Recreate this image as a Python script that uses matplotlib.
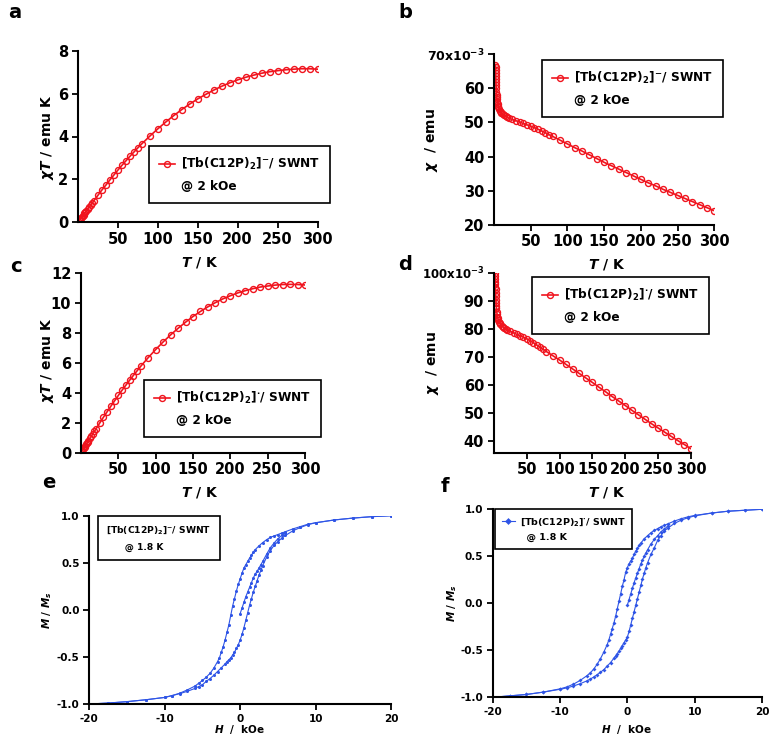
import matplotlib
matplotlib.use("Agg")
import matplotlib.pyplot as plt
from matplotlib.lines import Line2D

plt.rcParams['font.family'] = ['DejaVu Sans']
plt.rcParams['font.weight'] = 'bold'
plt.rcParams['axes.unicode_minus'] = False
plt.rcParams['mathtext.fontset'] = 'custom'
plt.rcParams['mathtext.rm'] = 'DejaVu Sans:bold'
plt.rcParams['mathtext.bf'] = 'DejaVu Sans:bold'
plt.rcParams['mathtext.it'] = 'DejaVu Sans:italic'
plt.rcParams['mathtext.bfit'] = 'DejaVu Sans:italic:bold'
plt.rcParams['mathtext.default'] = 'bf'

RED = '#f0141e'
BLUE = '#2f55e6'

# chi*T vs T (panels a, c)
T_ct = [2, 3, 4, 5, 6, 7, 8, 9, 10, 12, 14, 16, 18, 20, 25, 30, 35, 40, 45, 50, 55, 60,
        65, 70, 75, 80, 90, 100, 110, 120, 130, 140, 150, 160, 170, 180, 190, 200, 210,
        220, 230, 240, 250, 260, 270, 280, 290, 300]
chiT_a = [0.1, 0.15, 0.2, 0.25, 0.3, 0.35, 0.4, 0.45, 0.5, 0.6, 0.7, 0.8, 0.9, 1.0, 1.25,
          1.5, 1.73, 1.97, 2.2, 2.43, 2.65, 2.86, 3.07, 3.27, 3.47, 3.66, 4.02, 4.36, 4.68,
          4.98, 5.26, 5.52, 5.76, 5.97, 6.17, 6.35, 6.51, 6.65, 6.77, 6.87, 6.96, 7.03,
          7.08, 7.12, 7.15, 7.17, 7.17, 7.15]
chiT_c = [0.15, 0.24, 0.32, 0.4, 0.48, 0.56, 0.64, 0.72, 0.8, 0.96, 1.12, 1.28, 1.43, 1.58,
          1.98, 2.37, 2.74, 3.11, 3.47, 3.83, 4.18, 4.51, 4.84, 5.16, 5.47, 5.78, 6.36, 6.9,
          7.41, 7.88, 8.32, 8.73, 9.11, 9.45, 9.76, 10.04, 10.29, 10.5, 10.69, 10.84, 10.97,
          11.08, 11.15, 11.21, 11.25, 11.26, 11.25, 11.22]

# chi vs T (panels b, d), units of 1e-3 emu
T_chi = [2, 2.1, 2.2, 2.3, 2.4, 2.5, 2.6, 2.8, 3, 3.25, 3.5, 3.75, 4, 4.5, 5, 5.5, 6, 7, 8,
         9, 10, 12, 14, 16, 18, 20, 25, 30, 35, 40, 45, 50, 55, 60, 65, 70, 75, 80, 90, 100,
         110, 120, 130, 140, 150, 160, 170, 180, 190, 200, 210, 220, 230, 240, 250, 260,
         270, 280, 290, 300]
chi_b = [67.0, 66.2, 65.3, 64.4, 63.5, 62.7, 62.0, 60.9, 60.0, 59.0, 58.2, 57.5, 56.9, 56.0,
         55.3, 54.8, 54.4, 53.9, 53.5, 53.1, 52.8, 52.4, 52.1, 51.8, 51.5, 51.3, 50.9, 50.5,
         50.1, 49.7, 49.3, 48.9, 48.5, 48.0, 47.5, 47.0, 46.4, 45.9, 44.8, 43.7, 42.6, 41.6,
         40.5, 39.4, 38.3, 37.3, 36.3, 35.3, 34.3, 33.3, 32.3, 31.4, 30.4, 29.5, 28.6, 27.7,
         26.8, 25.9, 25.0, 24.1]
chi_d = [99.8, 98.8, 97.8, 96.8, 95.9, 95.0, 94.2, 92.8, 91.6, 90.3, 89.2, 88.3, 87.5, 86.2,
         85.2, 84.4, 84.0, 83.2, 82.6, 82.2, 81.8, 81.2, 80.8, 80.4, 80.1, 79.8, 79.2, 78.7,
         78.1, 77.6, 77.1, 76.6, 75.9, 75.2, 74.4, 73.6, 72.8, 72.0, 70.5, 69.0, 67.4, 65.8,
         64.2, 62.6, 61.0, 59.3, 57.7, 56.0, 54.4, 52.8, 51.1, 49.5, 47.9, 46.3, 44.8, 43.3,
         41.8, 40.3, 38.9, 37.4]

# hysteresis loops (panels e, f)
H_down = [20, 17.5, 15, 12.5, 10, 9, 8, 7, 6, 5.5, 5, 4.5, 4, 3.5, 3, 2.5, 2, 1.75, 1.5,
          1.25, 1, 0.75, 0.5, 0.25, 0, -0.25, -0.5, -0.75, -1, -1.25, -1.5, -1.75, -2,
          -2.25, -2.5, -2.75, -3, -3.5, -4, -4.5, -5, -5.5, -6, -7, -8, -9, -10, -12.5,
          -15, -17.5, -20]
H_up = [-20, -17.5, -15, -12.5, -10, -9, -8, -7, -6, -5.5, -5, -4.5, -4, -3.5, -3, -2.5,
        -2, -1.75, -1.5, -1.25, -1, -0.75, -0.5, -0.25, 0, 0.25, 0.5, 0.75, 1, 1.25, 1.5,
        1.75, 2, 2.25, 2.5, 2.75, 3, 3.5, 4, 4.5, 5, 5.5, 6, 7, 8, 9, 10, 12.5, 15, 17.5, 20]
H_virgin = [0, 0.25, 0.5, 0.75, 1, 1.25, 1.5, 1.75, 2, 2.25, 2.5, 2.75, 3, 3.5, 4, 4.5, 5,
            5.5, 6]

M_e_down = [1.0, 0.99, 0.975, 0.955, 0.925, 0.91, 0.885, 0.86, 0.83, 0.815, 0.8, 0.785,
            0.77, 0.745, 0.715, 0.68, 0.64, 0.615, 0.58, 0.55, 0.515, 0.48, 0.445, 0.39,
            0.33, 0.27, 0.2, 0.12, 0.04, -0.06, -0.16, -0.24, -0.32, -0.39, -0.45, -0.51,
            -0.55, -0.62, -0.675, -0.715, -0.75, -0.78, -0.81, -0.85, -0.885, -0.91, -0.93,
            -0.955, -0.975, -0.99, -1.0]
M_e_up = [-1.0, -0.99, -0.975, -0.955, -0.93, -0.91, -0.89, -0.865, -0.835, -0.815,
          -0.795, -0.76, -0.73, -0.695, -0.655, -0.615, -0.575, -0.55, -0.53, -0.51, -0.48,
          -0.45, -0.41, -0.37, -0.32, -0.26, -0.19, -0.11, -0.03, 0.05, 0.12, 0.19, 0.25,
          0.31, 0.37, 0.42, 0.47, 0.56, 0.63, 0.685, 0.725, 0.76, 0.79, 0.84, 0.875, 0.905,
          0.925, 0.955, 0.975, 0.99, 1.0]
M_e_virgin = [-0.04, 0.02, 0.08, 0.14, 0.19, 0.24, 0.29, 0.34, 0.38, 0.41, 0.445, 0.48,
              0.515, 0.59, 0.66, 0.71, 0.755, 0.79, 0.82]

M_f_down = [1.0, 0.99, 0.98, 0.96, 0.935, 0.92, 0.9, 0.875, 0.845, 0.83, 0.815, 0.795,
            0.775, 0.75, 0.72, 0.685, 0.64, 0.615, 0.585, 0.555, 0.52, 0.48, 0.45, 0.42,
            0.38, 0.33, 0.25, 0.18, 0.1, 0.02, -0.06, -0.14, -0.21, -0.27, -0.33, -0.39,
            -0.44, -0.52, -0.59, -0.65, -0.7, -0.74, -0.77, -0.82, -0.86, -0.89, -0.91,
            -0.945, -0.97, -0.985, -1.0]
M_f_up = [-1.0, -0.985, -0.97, -0.945, -0.915, -0.9, -0.88, -0.855, -0.825, -0.805,
          -0.785, -0.76, -0.735, -0.705, -0.67, -0.63, -0.585, -0.56, -0.535, -0.51, -0.48,
          -0.45, -0.42, -0.39, -0.36, -0.3, -0.23, -0.16, -0.09, -0.02, 0.05, 0.12, 0.19,
          0.26, 0.32, 0.38, 0.43, 0.52, 0.59, 0.67, 0.72, 0.77, 0.8, 0.85, 0.885, 0.91,
          0.93, 0.96, 0.98, 0.99, 1.0]
M_f_virgin = [-0.02, 0.04, 0.1, 0.16, 0.22, 0.27, 0.32, 0.37, 0.42, 0.46, 0.5, 0.535, 0.57,
              0.63, 0.68, 0.72, 0.76, 0.79, 0.82]

label_minus = r'[Tb(C12P)$_2$]$^{-}$/ SWNT'
label_dot = r'[Tb(C12P)$_2$]$^{\cdot}$/ SWNT'

W, Hpx = 774, 749
fig = plt.figure(figsize=(W / 100, Hpx / 100), dpi=100)


def make_ax(l, t, r, b):
    return fig.add_axes([l / W, 1 - b / Hpx, (r - l) / W, (b - t) / Hpx])


def to_ax(ax, px, py):
    p = ax.get_position()
    return ((px / W - p.x0) / p.width, (1 - py / Hpx - p.y0) / p.height)


def style(ax, size):
    for s in ['top', 'right']:
        ax.spines[s].set_visible(False)
    for s in ['left', 'bottom']:
        ax.spines[s].set_linewidth(1.5)
    ax.tick_params(direction='out', length=4, width=1.3, labelsize=size, pad=3)


def labels(ax, xl, xpos, yl, ypos, size):
    ax.set_xlabel(xl, fontsize=size, fontweight='bold', va='center')
    ax.xaxis.set_label_coords(*to_ax(ax, *xpos))
    ax.set_ylabel(yl, fontsize=size, fontweight='bold', va='center')
    ax.yaxis.set_label_coords(*to_ax(ax, *ypos))


def add_legend(ax, handles, texts, px, py, size, **kw):
    opts = dict(loc='upper left', bbox_to_anchor=(px / W, 1 - py / Hpx),
                bbox_transform=fig.transFigure, frameon=True, fancybox=False,
                edgecolor='black', framealpha=1, borderaxespad=0,
                prop={'family': 'DejaVu Sans', 'weight': 'bold', 'size': size},
                handlelength=1.3, handletextpad=0.5, borderpad=0.85, labelspacing=0.6)
    opts.update(kw)
    leg = ax.legend(handles, texts, **opts)
    leg.get_frame().set_linewidth(1.2)
    return leg


blank = Line2D([], [], linestyle='none')
red_kw = dict(color=RED, lw=1.2, marker='o', ms=4.3, mfc='none', mec=RED, mew=1.0)

# panel a
ax = make_ax(78, 51, 317.5, 222)
l1, = ax.plot(T_ct, chiT_a, **red_kw)
ax.set_xlim(0, 300)
ax.set_ylim(0, 8)
ax.set_xticks([50, 100, 150, 200, 250, 300])
ax.set_yticks([0, 2, 4, 6, 8])
style(ax, 10.5)
labels(ax, r'$\mathbfit{T}$ / K', (200, 263), r'$\mathit{\chi}\mathbfit{T}$ / emu K', (47, 137), 10)
add_legend(ax, [l1, blank], [label_minus, '@ 2 kOe'], 149, 146, 8.7)

# panel b
ax = make_ax(494, 54.3, 714.3, 224.7)
l1, = ax.plot(T_chi, chi_b, **red_kw)
ax.set_xlim(0, 300)
ax.set_ylim(20, 70)
ax.set_xticks([50, 100, 150, 200, 250, 300])
ax.set_yticks([20, 30, 40, 50, 60, 70])
ax.set_yticklabels(['20', '30', '40', '50', '60', r'70x10$^{-3}$'])
style(ax, 10.5)
ax.get_yticklabels()[-1].set_fontsize(9)
labels(ax, r'$\mathbfit{T}$ / K', (607, 265), r'$\mathit{\chi}$  / emu', (432, 140), 10)
add_legend(ax, [l1, blank], [label_minus, '@ 2 kOe'], 541.7, 60, 8.7)

# panel c
ax = make_ax(81, 273.3, 305, 452.7)
l1, = ax.plot(T_ct, chiT_c, **red_kw)
ax.set_xlim(0, 300)
ax.set_ylim(0, 12)
ax.set_xticks([50, 100, 150, 200, 250, 300])
ax.set_yticks([0, 2, 4, 6, 8, 10, 12])
style(ax, 10.5)
labels(ax, r'$\mathbfit{T}$ / K', (200, 493), r'$\mathit{\chi}\mathbfit{T}$ / emu K', (47, 360), 10)
add_legend(ax, [l1, blank], [label_dot, '@ 2 kOe'], 144, 380, 8.7)

# panel d
ax = make_ax(493.8, 272.9, 691, 452.7)
l1, = ax.plot(T_chi, chi_d, **red_kw)
ax.set_xlim(0, 300)
ax.set_ylim(36, 100)
ax.set_xticks([50, 100, 150, 200, 250, 300])
ax.set_yticks([40, 50, 60, 70, 80, 90, 100])
ax.set_yticklabels(['40', '50', '60', '70', '80', '90', r'100x10$^{-3}$'])
style(ax, 10.5)
ax.get_yticklabels()[-1].set_fontsize(8.5)
labels(ax, r'$\mathbfit{T}$ / K', (607, 493), r'$\mathit{\chi}$  / emu', (432, 363), 10)
add_legend(ax, [l1, blank], [label_dot, '@ 2 kOe'], 532, 277, 8.7)

# panel e
blue_e = dict(color=BLUE, lw=0.8, marker='o', ms=2.2, mew=0)
ax = make_ax(89.3, 515.7, 391, 704)
ax.plot(H_down, M_e_down, **blue_e)
ax.plot(H_up, M_e_up, **blue_e)
ax.plot(H_virgin, M_e_virgin, **blue_e)
ax.set_xlim(-20, 20)
ax.set_ylim(-1.0, 1.0)
ax.set_xticks([-20, -10, 0, 10, 20])
ax.set_yticks([-1.0, -0.5, 0.0, 0.5, 1.0])
ax.set_yticklabels(['-1.0', '-0.5', '0.0', '0.5', '1.0'])
style(ax, 7.5)
labels(ax, r'$\mathbfit{H}$  /  kOe', (240, 729), r'$\mathbfit{M}$ / $\mathbfit{M}_{\mathbfit{s}}$', (47, 610), 7.5)
add_legend(ax, [blank, blank], [label_minus, '      @ 1.8 K'], 98, 516, 6.6,
           handlelength=0, handletextpad=0, borderpad=0.9, labelspacing=0.7)

# panel f
blue_f = dict(color=BLUE, lw=0.8, marker='D', ms=2.0, mew=0)
ax = make_ax(492.7, 509.3, 762, 697.3)
l1, = ax.plot(H_down, M_f_down, **blue_f)
ax.plot(H_up, M_f_up, **blue_f)
ax.plot(H_virgin, M_f_virgin, **blue_f)
ax.set_xlim(-20, 20)
ax.set_ylim(-1.0, 1.0)
ax.set_xticks([-20, -10, 0, 10, 20])
ax.set_yticks([-1.0, -0.5, 0.0, 0.5, 1.0])
ax.set_yticklabels(['-1.0', '-0.5', '0.0', '0.5', '1.0'])
style(ax, 7.5)
labels(ax, r'$\mathbfit{H}$  /  kOe', (627, 730), r'$\mathbfit{M}$ / $\mathbfit{M}_{\mathbfit{s}}$', (452, 603), 7.5)
leg_handle = Line2D([], [], color=BLUE, lw=0.8, marker='D', ms=3.5, mew=0)
add_legend(ax, [leg_handle, blank], [label_dot, '  @ 1.8 K'], 495, 509, 6.8,
           handlelength=1.4, borderpad=0.7, labelspacing=0.6)

# panel letters
for letter, px, py in [('a', 8, 13), ('b', 398, 13), ('c', 10, 266), ('d', 398, 265),
                       ('e', 42, 483), ('f', 441, 487)]:
    fig.text(px / W, 1 - py / Hpx, letter, fontsize=14, fontweight='bold',
             ha='left', va='center')

fig.savefig('out.png', dpi=100)
